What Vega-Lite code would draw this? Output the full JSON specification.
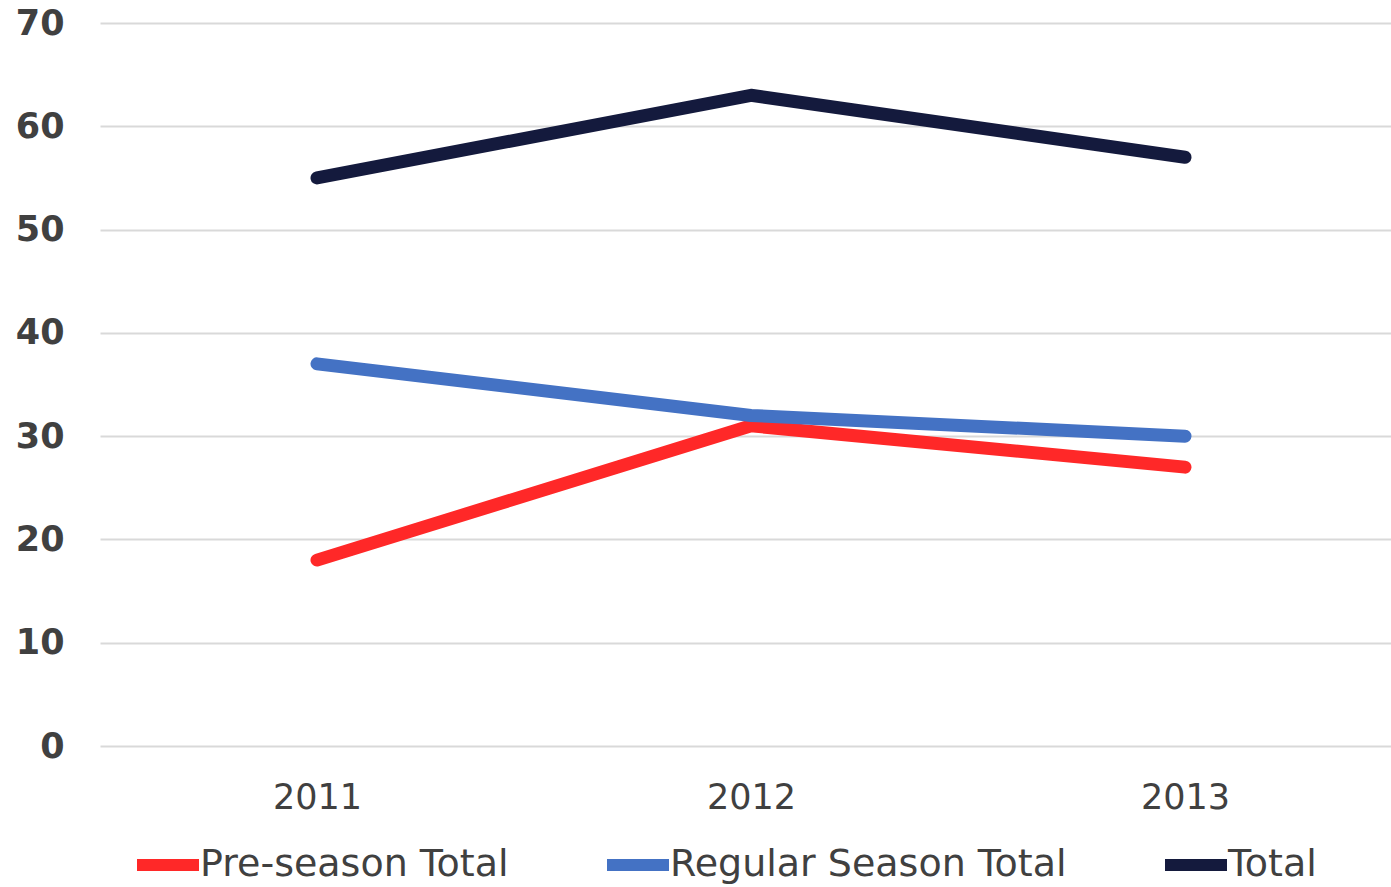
{
  "$schema": "https://vega.github.io/schema/vega-lite/v6.json",
  "autosize": {"type": "none"},
  "padding": {"left": 100, "top": 23, "right": 0, "bottom": 141},
  "width": 1302,
  "height": 723,
  "background": "white",
  "config": {
    "view": {"stroke": null},
    "font": "DejaVu Sans"
  },
  "data": {
    "values": [
      {"year": "2011", "series": "Pre-season Total", "value": 18},
      {"year": "2012", "series": "Pre-season Total", "value": 31},
      {"year": "2013", "series": "Pre-season Total", "value": 27},
      {"year": "2011", "series": "Regular Season Total", "value": 37},
      {"year": "2012", "series": "Regular Season Total", "value": 32},
      {"year": "2013", "series": "Regular Season Total", "value": 30},
      {"year": "2011", "series": "Total", "value": 55},
      {"year": "2012", "series": "Total", "value": 63},
      {"year": "2013", "series": "Total", "value": 57}
    ]
  },
  "mark": {"type": "line", "strokeWidth": 13, "strokeCap": "round", "strokeJoin": "round"},
  "encoding": {
    "x": {
      "field": "year", "type": "ordinal", "title": null,
      "scale": {"type": "point", "padding": 0.5},
      "axis": {"labelAngle": 0, "labelFontSize": 35, "labelColor": "#404040", "labelPadding": 34, "ticks": false, "domain": false, "grid": false}
    },
    "y": {
      "field": "value", "type": "quantitative", "title": null,
      "scale": {"domain": [0, 70]},
      "axis": {"values": [0, 10, 20, 30, 40, 50, 60, 70], "labelFontSize": 35, "labelFontWeight": "bold", "labelColor": "#404040", "labelPadding": 36, "ticks": false, "domain": false, "gridColor": "#d9d9d9", "gridWidth": 2}
    },
    "color": {
      "field": "series", "type": "nominal",
      "scale": {"domain": ["Pre-season Total", "Regular Season Total", "Total"], "range": ["#FF2828", "#4472C4", "#141A3D"]},
      "legend": {
        "title": null, "orient": "none", "direction": "horizontal",
        "legendX": 31, "legendY": 805,
        "symbolType": "stroke", "symbolSize": 3844, "symbolStrokeWidth": 12,
        "labelFontSize": 38, "labelColor": "#404040", "labelOffset": -5, "labelLimit": 0,
        "columnPadding": 74
      }
    }
  }
}
